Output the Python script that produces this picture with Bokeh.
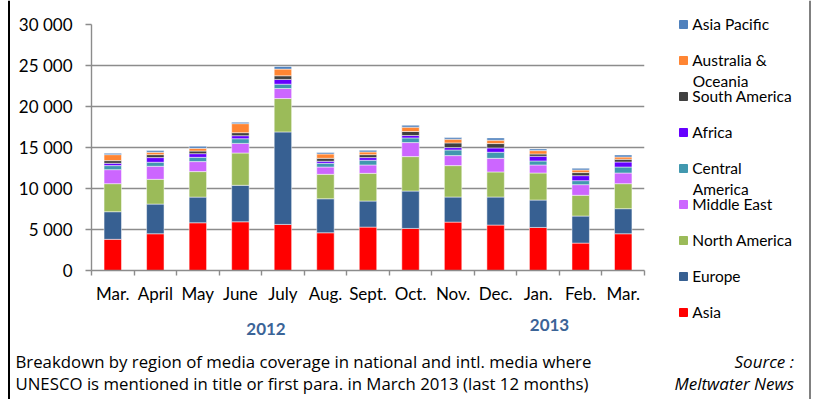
from bokeh.plotting import figure
from bokeh.models import (FixedTicker, Legend, LegendItem, Label, Span,
                          Range1d, ColumnDataSource, Column)
from bokeh.embed import file_html
from bokeh.resources import INLINE

# ---------------- data ----------------
months = ["Mar.", "April", "May", "June", "July", "Aug.", "Sept.", "Oct.",
          "Nov.", "Dec.", "Jan.", "Feb.", "Mar."]
years = ["2012", "2013"]

asia = [3800, 4480, 5820, 5940, 5620, 4600, 5290, 5130, 5900, 5540, 5250, 3340, 4480]
europe = [3370, 3620, 3130, 4450, 11280, 4150, 3180, 4560, 3060, 3420, 3340, 3300, 3060]
north_america = [3420, 3020, 3110, 3940, 4070, 2980, 3380, 4200, 3830, 3060, 3300, 2530, 3050]
middle_east = [1710, 1590, 1220, 1170, 1220, 890, 1020, 1710, 1220, 1660, 980, 1300, 1300]
central_america = [490, 490, 520, 570, 530, 450, 570, 570, 690, 740, 490, 490, 730]
africa = [280, 570, 450, 370, 580, 250, 330, 290, 290, 530, 570, 610, 610]
south_america = [330, 360, 320, 370, 450, 360, 360, 490, 570, 530, 280, 370, 330]
australia_oceania = [730, 290, 330, 1100, 810, 530, 330, 530, 450, 410, 410, 320, 280]
asia_pacific = [170, 200, 250, 170, 330, 170, 200, 240, 200, 280, 210, 210, 250]

series_keys = ["asia", "europe", "north_america", "middle_east", "central_america",
               "africa", "south_america", "australia_oceania", "asia_pacific"]
series_names = ["Asia", "Europe", "North America", "Middle East", "Central\nAmerica",
                "Africa", "South America", "Australia &\nOceania", "Asia Pacific"]
series_colors = ["#FF0000", "#376092", "#9BBB59", "#CC66FF", "#4198AF",
                 "#6600FF", "#404040", "#FF8533", "#4F81BD"]

y_ticks = [0, 5000, 10000, 15000, 20000, 25000, 30000]
y_tick_labels = ["0", "5 000", "10 000", "15 000", "20 000", "25 000", "30 000"]

caption = ["Breakdown by region of media coverage in national and intl. media  where",
           "UNESCO is mentioned in title or first para. in March 2013 (last 12 months)"]
source_note = ["Source :", "Meltwater News"]

# ---------------- main chart ----------------
FONT = "Lato"
TEXT_FONT = "Open Sans"
GRID = "#8c8c8c"
W, H = 822, 399

data = dict(x=list(range(len(months))), asia=asia, europe=europe,
            north_america=north_america, middle_east=middle_east,
            central_america=central_america, africa=africa,
            south_america=south_america, australia_oceania=australia_oceania,
            asia_pacific=asia_pacific)
src = ColumnDataSource(data)

p = figure(width=W, height=H, output_backend="svg", toolbar_location=None,
           x_range=Range1d(-0.5, len(months) - 0.5), y_range=Range1d(0, 30000),
           min_border_left=91, min_border_right=178, min_border_top=24,
           min_border_bottom=129)
p.outline_line_color = None
p.xgrid.visible = False
p.ygrid.grid_line_color = GRID
p.ygrid.grid_line_width = 1.4
p.ygrid.ticker = FixedTicker(ticks=y_ticks)

renderers = p.vbar_stack(series_keys, x="x", width=0.41, color=series_colors,
                         source=src, line_color="white", line_width=0.7,
                         line_alpha=0.7)

xa = p.xaxis[0]
xa.ticker = FixedTicker(ticks=list(range(len(months))),
                        minor_ticks=[i - 0.5 for i in range(len(months) + 1)])
xa.major_label_overrides = {i: m for i, m in enumerate(months)}
xa.major_tick_out = 0
xa.major_tick_in = 0
xa.minor_tick_out = 5
xa.minor_tick_in = 0
xa.minor_tick_line_color = GRID
xa.minor_tick_line_width = 1.4
xa.axis_line_color = GRID
xa.axis_line_width = 1.4
xa.major_label_standoff = 7
xa.major_label_text_font = FONT
xa.major_label_text_font_size = "17px"
xa.major_label_text_color = "black"

ya = p.yaxis[0]
ya.ticker = FixedTicker(ticks=y_ticks)
ya.major_label_overrides = {t: l for t, l in zip(y_ticks, y_tick_labels)}
ya.major_tick_out = 6
ya.major_tick_in = 0
ya.minor_tick_out = 0
ya.minor_tick_in = 0
ya.major_tick_line_color = GRID
ya.major_tick_line_width = 1.4
ya.axis_line_color = GRID
ya.axis_line_width = 1.4
ya.major_label_standoff = 13
ya.major_label_text_font = FONT
ya.major_label_text_font_size = "17px"
ya.major_label_text_color = "black"

# ---------------- transparent overlay (pixel coordinates): legend, free texts ----------------
ov = figure(width=W, height=H, output_backend="svg", toolbar_location=None,
            x_range=Range1d(0, W), y_range=Range1d(H, 0),
            x_axis_type=None, y_axis_type=None,
            min_border_left=0, min_border_right=0, min_border_top=0,
            min_border_bottom=0)
ov.grid.visible = False
ov.outline_line_color = None
ov.background_fill_alpha = 0
ov.border_fill_alpha = 0
ov.margin = (-H, 0, 0, 0)

for fig in (p, ov):
    if hasattr(fig, "frame_align"):
        fig.frame_align = False

# legend swatches: proxy renderers (a single NaN point, nothing drawn) in the series colours
nan = float("nan")
items = []
extra_lines = []
for key, name, color in reversed(list(zip(series_keys, series_names, series_colors))):
    parts = name.split("\n")
    proxy = ov.vbar(x=[nan], top=[nan], bottom=[nan], width=1, color=color)
    items.append(LegendItem(label=parts[0], renderers=[proxy]))
    extra_lines.append(parts[1:])
legend = Legend(items=items, location=(678.3, 76.7), orientation="vertical",
                glyph_width=10, glyph_height=10, label_height=20, spacing=16,
                padding=0, margin=0, border_line_color=None,
                background_fill_alpha=0, label_standoff=4,
                label_text_font=FONT, label_text_font_size="15.5px",
                label_text_color="black")
ov.add_layout(legend)

# second lines of the wrapped legend labels (centres in pixels)
first_center = 24.3
pitch = 36
for i, rest in enumerate(extra_lines):
    for j, line in enumerate(rest):
        ov.add_layout(Label(x=692.3, y=first_center + i * pitch + 20.5 * (j + 1),
                            text=line, text_baseline="middle", text_font=FONT,
                            text_font_size="15.5px", text_color="black"))

for txt, cx, cy in zip(years, [265.5, 549], [328.8, 324.5]):
    ov.add_layout(Label(x=cx, y=cy, text=txt, text_align="center",
                        text_baseline="middle", text_font=FONT,
                        text_font_style="bold", text_font_size="17px",
                        text_color="#3B6497"))

for line, cy in zip(caption, [361.2, 383.2]):
    ov.add_layout(Label(x=15, y=cy, text=line, text_baseline="middle",
                        text_font=TEXT_FONT, text_font_size="16.8px",
                        text_color="black"))
for line, cy in zip(source_note, [361.2, 383.3]):
    ov.add_layout(Label(x=793.5, y=cy, text=line, text_align="right",
                        text_baseline="middle", text_font=TEXT_FONT,
                        text_font_style="italic", text_font_size="17px",
                        text_color="black"))

ov.add_layout(Span(location=8.5, dimension="height", line_color="black", line_width=2))
ov.add_layout(Span(location=809.5, dimension="height", line_color="#808080", line_width=2))

layout = Column(children=[p, ov], spacing=0)
open("out.html", "w").write(file_html(layout, INLINE))
